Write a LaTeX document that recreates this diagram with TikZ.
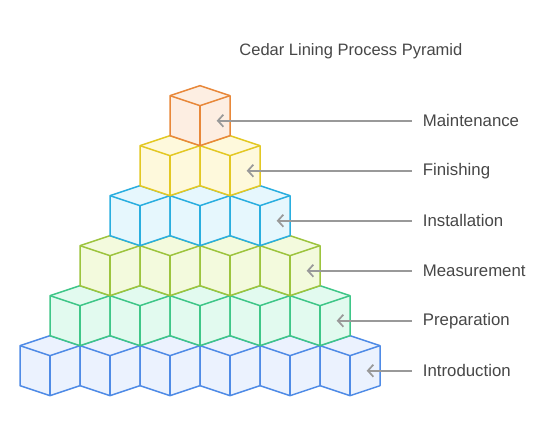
\documentclass[tikz,border=0pt]{standalone}
\usepackage{fontspec}
\setmainfont{Liberation Sans}
\usetikzlibrary{arrows.meta}
\definecolor{cOrS}{HTML}{E8883A}\definecolor{cOrF}{HTML}{FDEEE2}
\definecolor{cYeS}{HTML}{E3C824}\definecolor{cYeF}{HTML}{FEF9DC}
\definecolor{cCyS}{HTML}{2AAEDF}\definecolor{cCyF}{HTML}{E6F7FD}
\definecolor{cLiS}{HTML}{9DC43E}\definecolor{cLiF}{HTML}{F3FADD}
\definecolor{cGrS}{HTML}{3FC688}\definecolor{cGrF}{HTML}{E2FAEF}
\definecolor{cBlS}{HTML}{4F8BE6}\definecolor{cBlF}{HTML}{EBF2FE}
\definecolor{arrgray}{HTML}{999999}
\definecolor{txtgray}{HTML}{474747}
\tikzset{
  cubeedge/.style={line width=1.5pt,line join=round},
  pointer/.style={draw=arrgray,line width=1.7pt,{Straight Barb[length=5.5pt,width=12pt]}-},
  lab/.style={anchor=west,inner xsep=11pt,inner ysep=0pt,text=txtgray,font=\fontsize{16.8}{19}\selectfont},
  ttl/.style={text=txtgray,font=\fontsize{16.5}{19}\selectfont}
}
\newcommand\mycube[4]{%
  \filldraw[cubeedge,draw=#3,fill=#4] (#1,#2) -- ++(30,-10) -- ++(30,10) -- ++(0,40) -- ++(-30,10) -- ++(-30,-10) -- cycle;
  \draw[cubeedge,draw=#3] (#1,#2) -- ++(30,10) -- ++(30,-10);
  \draw[cubeedge,draw=#3] (#1+30,#2+10) -- ++(0,40);
}
\begin{document}
\begin{tikzpicture}[x=1pt,y=-1pt]
\useasboundingbox[fill=white] (0,0) rectangle (552,437);
\foreach \k/\s/\f in {5/cBlS/cBlF,4/cGrS/cGrF,3/cLiS/cLiF,2/cCyS/cCyF,1/cYeS/cYeF,0/cOrS/cOrF}{
  \foreach \i in {0,...,\k}{
    \pgfmathsetmacro\xx{200-30*(\k+1)+60*\i}
    \pgfmathsetmacro\yy{95.7+50*\k}
    \mycube{\xx}{\yy}{\s}{\f}
  }
}
\node[ttl] (title) at (350.9,51.7) {Cedar Lining Process Pyramid};
\foreach \k/\t in {0/Maintenance,1/Finishing,2/Installation,3/Measurement,4/Preparation,5/Introduction}{
  \coordinate (tip\k) at (216.7+30*\k,120.7+50*\k);
  \node[lab] (lab\k) at (411.7,120.7+50*\k) {\t};
  \draw[pointer] (tip\k) -- (lab\k.west);
}
\end{tikzpicture}
\end{document}
